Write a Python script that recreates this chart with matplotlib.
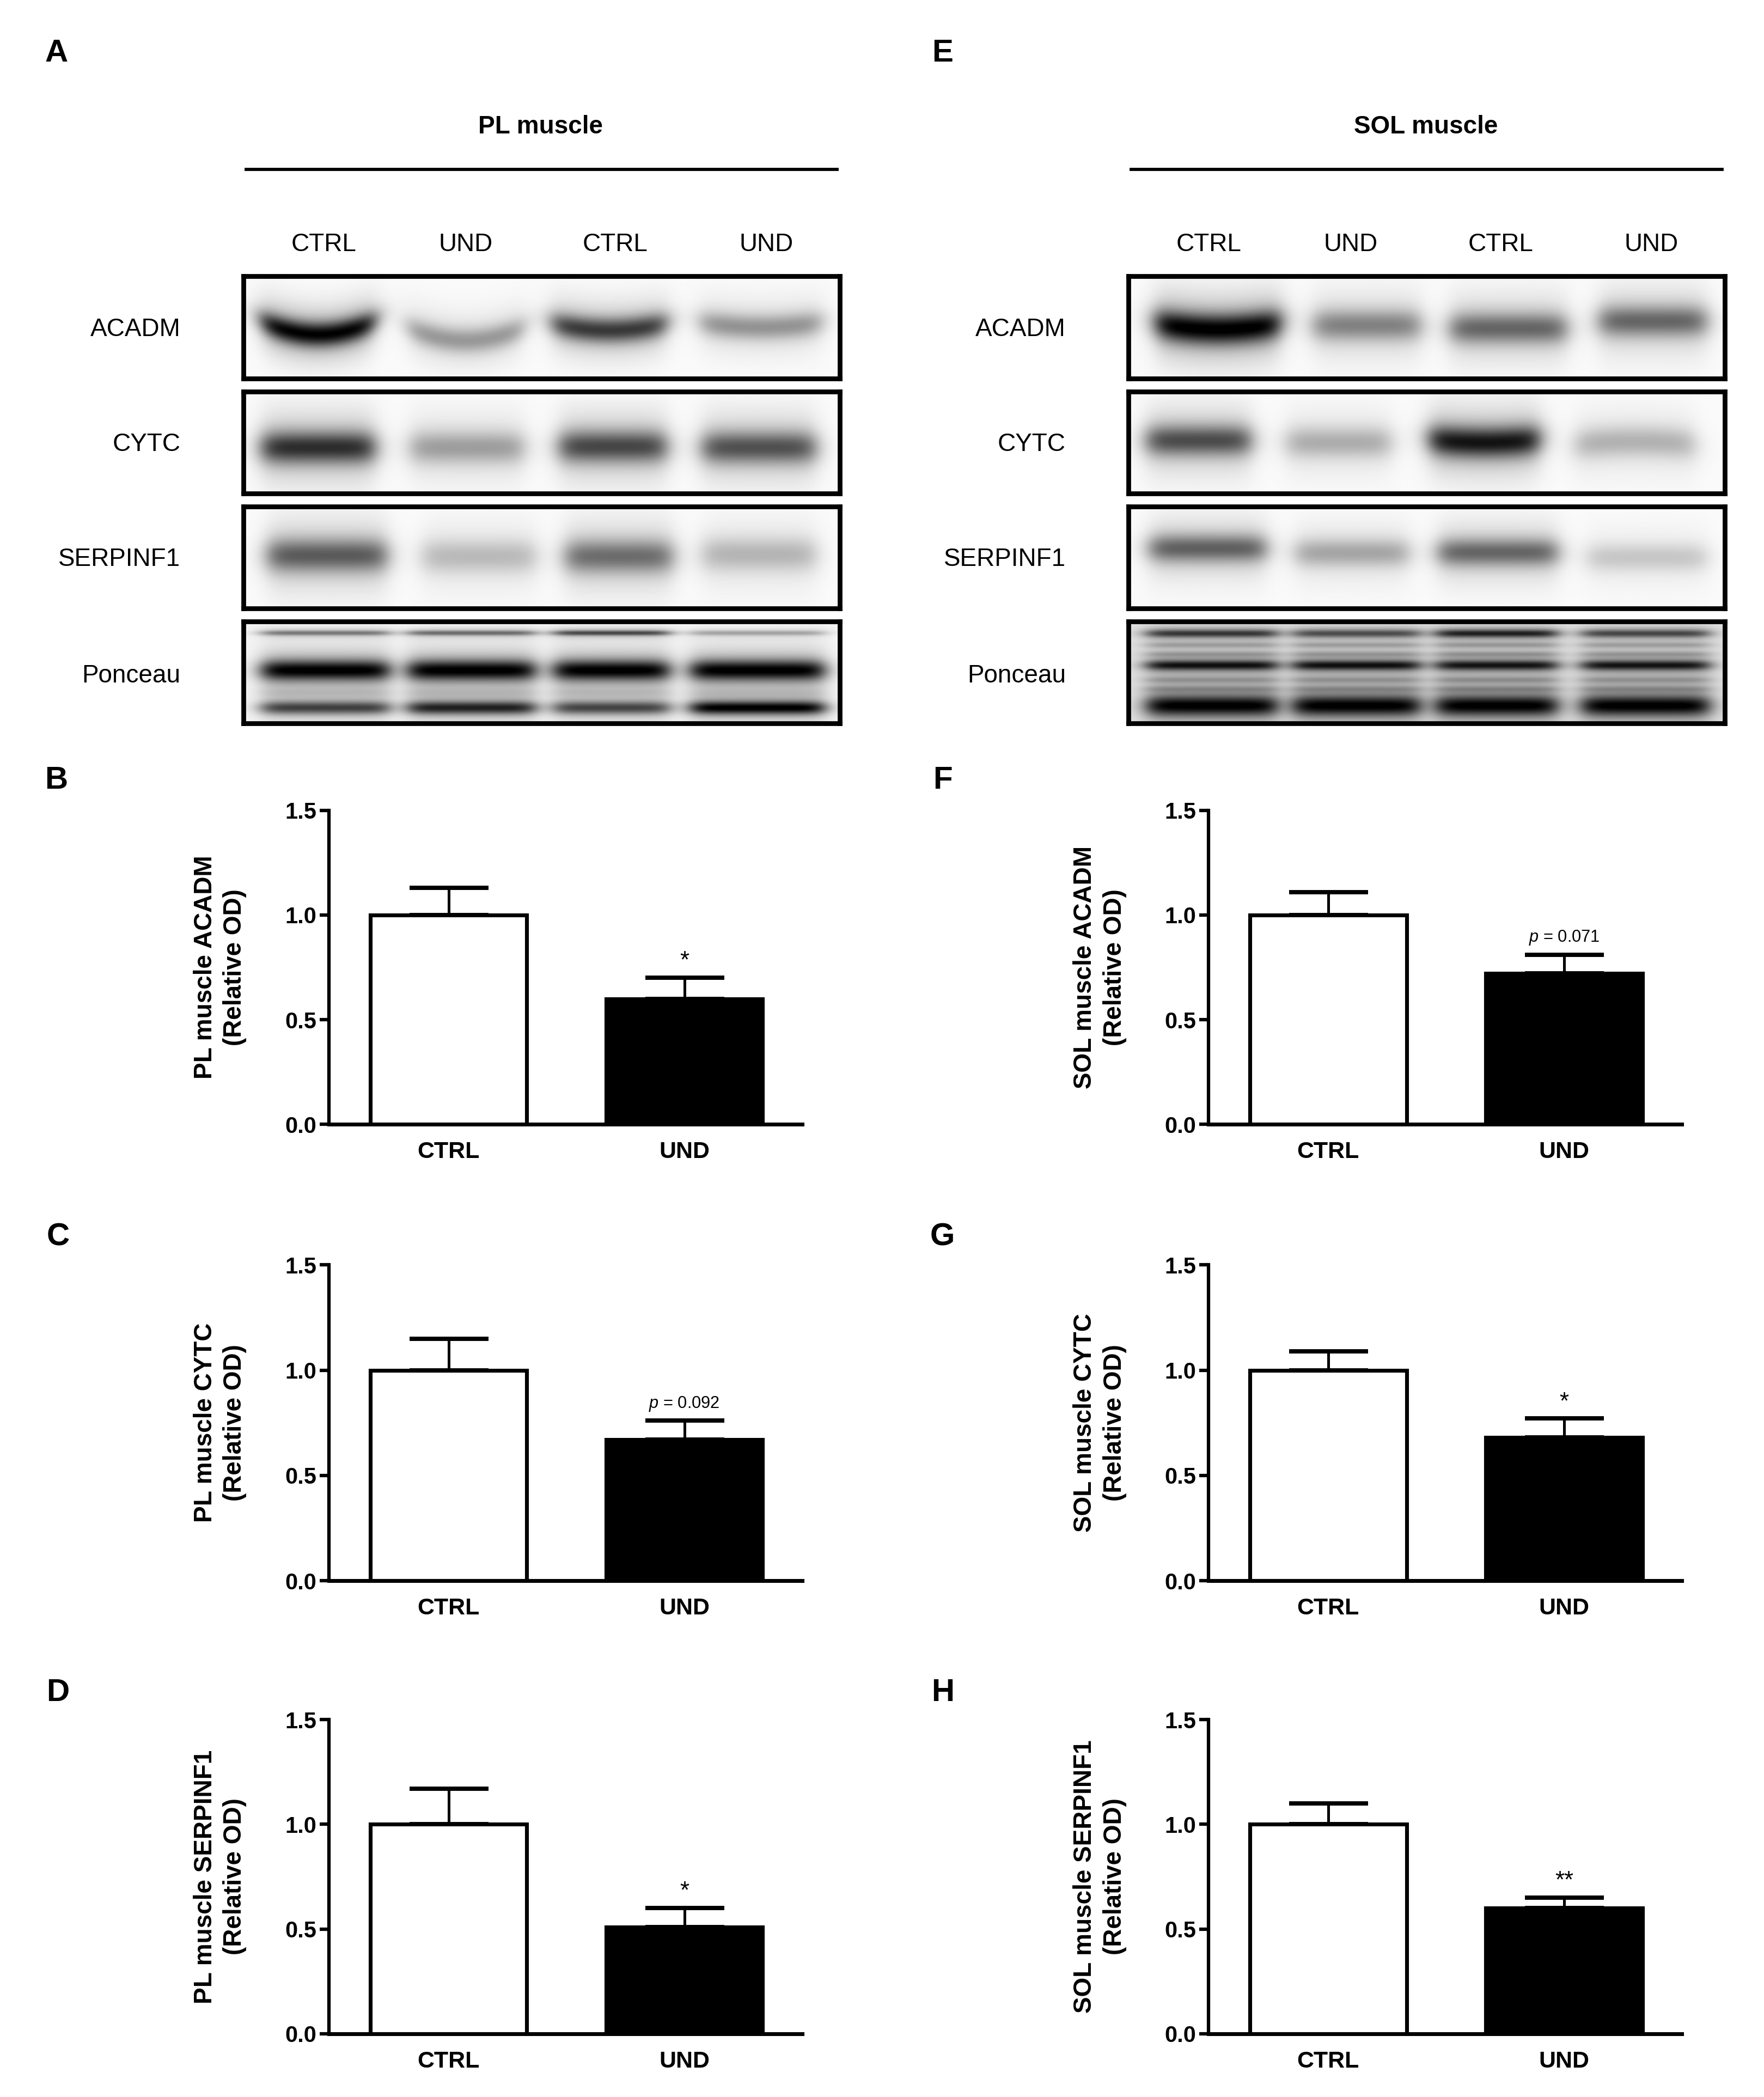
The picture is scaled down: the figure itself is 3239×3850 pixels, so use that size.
import numpy as np
import matplotlib
matplotlib.use("Agg")
import matplotlib.pyplot as plt

plt.rcParams['font.family'] = ['Liberation Sans', 'DejaVu Sans']
plt.rcParams['mathtext.fontset'] = 'custom'
plt.rcParams['mathtext.it'] = 'Liberation Sans:italic'
plt.rcParams['mathtext.rm'] = 'Liberation Sans'

W, H = 3239, 3850
DPI = 300
S = 1.0045  # layout below was measured slightly small

# bar values
groups = ['CTRL', 'UND']
pl_acadm = [1.00, 0.60]
pl_acadm_err = [0.13, 0.10]
pl_cytc = [1.00, 0.67]
pl_cytc_err = [0.15, 0.09]
pl_serpinf1 = [1.00, 0.51]
pl_serpinf1_err = [0.17, 0.09]
sol_acadm = [1.00, 0.72]
sol_acadm_err = [0.11, 0.09]
sol_cytc = [1.00, 0.68]
sol_cytc_err = [0.09, 0.09]
sol_serpinf1 = [1.00, 0.60]
sol_serpinf1_err = [0.10, 0.05]
y_ticks = [0.0, 0.5, 1.0, 1.5]

lane_labels = ['CTRL', 'UND', 'CTRL', 'UND']
blot_names = ['ACADM', 'CYTC', 'SERPINF1', 'Ponceau']

# band darkness for each lane of the blots
pl_acadm_dark = [0.97, 0.38, 0.75, 0.40]
pl_cytc_dark = [0.80, 0.36, 0.70, 0.66]
pl_serp_dark = [0.62, 0.25, 0.55, 0.27]
pl_ponc_top = [0.50, 0.55, 0.70, 0.32]
pl_ponc_mid = [1.00, 1.00, 1.00, 1.00]
pl_ponc_low = [0.72, 0.85, 0.70, 1.00]
sol_acadm_dark = [1.00, 0.47, 0.58, 0.58]
sol_cytc_dark = [0.68, 0.30, 0.90, 0.28]
sol_serp_dark = [0.60, 0.33, 0.58, 0.20]
sol_ponc_top = [0.75, 0.65, 0.85, 0.68]
sol_ponc_mid = [0.92, 0.92, 0.90, 0.90]
sol_ponc_low = [1.00, 1.00, 1.00, 1.00]
sol_ponc_faint = [0.26, 0.26, 0.28, 0.26]


def px_axes(x0, y0, x1, y1):
    x0, y0, x1, y1 = x0 * S, y0 * S, x1 * S, y1 * S
    return fig.add_axes([x0 / W, 1 - y1 / H, (x1 - x0) / W, (y1 - y0) / H])


def txt(x, y, s, **kw):
    fig.text(x * S / W, 1 - y * S / H, s, ha=kw.pop('ha', 'center'), va=kw.pop('va', 'center'), **kw)


def hline(x0, x1, y):
    fig.add_artist(plt.Line2D([x0 * S / W, x1 * S / W], [1 - y * S / H] * 2, color='black', lw=1.4))


def band(xx, yy, x0, x1, yc, sy, dark, curve=0.0):
    # flat topped in x, soft in y, with a halo like a real film exposure
    u = (xx - (x0 + x1) / 2) / ((x1 - x0) / 2)
    xprof = 0.5 * (np.tanh((xx - x0) / 0.02) - np.tanh((xx - x1) / 0.02))
    yy2 = yy - yc + curve * u ** 2
    core = np.exp(-yy2 ** 2 / (2 * sy ** 2))
    halo = np.exp(-yy2 ** 2 / (2 * (sy * 2.3) ** 2))
    return np.clip(dark * xprof * (0.75 * core + 0.28 * halo), 0, 1)


def draw_blot(box, lanes, rows, bg):
    ax = px_axes(*box)
    xx, yy = np.meshgrid(np.linspace(0, 1, 700), np.linspace(0, 1, 130))
    clear = np.ones_like(xx)
    for darks, ys, sy, curves in rows:
        for i in range(4):
            clear = clear * (1 - band(xx, yy, lanes[i][0], lanes[i][1], ys[i], sy, darks[i], curves[i]))
    ax.imshow(bg * clear, cmap='gray', vmin=0, vmax=1, extent=[0, 1, 1, 0], aspect='auto',
              interpolation='bilinear')
    ax.set_xticks([])
    ax.set_yticks([])
    for s in ax.spines.values():
        s.set_linewidth(2.1)


def draw_bars(left, top, bottom, title, vals, errs, note=None):
    ax = px_axes(left, top, left + 865, bottom)
    x = np.arange(len(groups))
    ax.bar(x, vals, width=0.664, color=['white', 'black'], edgecolor='black', linewidth=1.7)
    ax.errorbar(x, vals, yerr=[[0, 0], errs], fmt='none', ecolor='black', elinewidth=1.2,
                capsize=17.4, capthick=1.9)
    ax.set_xlim(-0.508, 1.499)
    ax.set_ylim(0, 1.5)
    ax.set_yticks(y_ticks)
    ax.set_yticklabels(['%.1f' % t for t in y_ticks], fontweight='bold', fontsize=10)
    ax.set_xticks(x)
    ax.set_xticklabels(groups, fontweight='bold', fontsize=10.3)
    ax.tick_params(axis='x', length=0, pad=7.5)
    ax.tick_params(axis='y', length=4, width=1.5, pad=1.5)
    ax.spines['top'].set_visible(False)
    ax.spines['right'].set_visible(False)
    ax.spines['left'].set_linewidth(1.5)
    ax.spines['bottom'].set_linewidth(1.7)
    ax.set_ylabel(title + '\n(Relative OD)', fontweight='bold', fontsize=11, linespacing=1.3)
    ax.yaxis.set_label_coords(-0.173, 0.5)
    if note:
        top_y = vals[1] + errs[1]
        if note.startswith('*'):
            ax.annotate(note, (1, top_y), xytext=(0, 2.3), textcoords='offset points',
                        ha='center', va='bottom', fontsize=10.5)
        else:
            ax.annotate(note, (1, top_y), xytext=(0, 3.5), textcoords='offset points',
                        ha='center', va='bottom', fontsize=7.4)


fig = plt.figure(figsize=(W / DPI, H / DPI), dpi=DPI, facecolor='white')

# panel letters
for s, x, y in [('A', 103, 98), ('E', 1723, 98), ('B', 103, 1427), ('F', 1723, 1427),
                ('C', 106, 2261), ('G', 1723, 2261), ('D', 106, 3094), ('H', 1723, 3094)]:
    txt(x, y, s, fontsize=14, fontweight='bold')

# headers
txt(988, 232, 'PL muscle', fontsize=11, fontweight='bold')
txt(2606, 232, 'SOL muscle', fontsize=11, fontweight='bold')
hline(450, 1530, 310)
hline(2068, 3148, 310)

for s, x in zip(lane_labels, [592, 851, 1125, 1401]):
    txt(x, 447, s, fontsize=11)
for s, x in zip(lane_labels, [2210, 2469, 2743, 3019]):
    txt(x, 447, s, fontsize=11)
for s, y in zip(blot_names, [602, 812, 1022, 1235]):
    txt(330, y, s, fontsize=11, ha='right')
    txt(1948, y, s, fontsize=11, ha='right')

# PL blots
draw_blot((445, 505, 1535, 692), [(.03, .22), (.276, .47), (.518, .71), (.767, .97)],
          [(pl_acadm_dark, [.57, .63, .53, .50], .085, [.13, .13, .07, .05])], 0.98)
draw_blot((445, 716, 1535, 902), [(.03, .22), (.28, .47), (.53, .71), (.77, .96)],
          [(pl_cytc_dark, [.55, .55, .54, .55], .11, [0, 0, 0, 0])], 0.98)
draw_blot((445, 926, 1535, 1112), [(.04, .24), (.30, .49), (.54, .72), (.77, .96)],
          [(pl_serp_dark, [.48, .49, .49, .47], .115, [0, 0, 0, 0])], 0.98)
pl_lanes = [(.03, .245), (.275, .49), (.52, .715), (.75, .975)]
draw_blot((445, 1136, 1535, 1322), pl_lanes,
          [(pl_ponc_top, [.11, .11, .11, .11], .018, [0, 0, 0, 0]),
           (pl_ponc_mid, [.48, .48, .48, .48], .07, [0, 0, 0, 0]),
           ([.10, .10, .10, .08], [.70, .70, .70, .70], .03, [0, 0, 0, 0]),
           (pl_ponc_low, [.85, .85, .85, .85], .045, [0, 0, 0, 0])], 0.96)

# SOL blots
draw_blot((2063, 505, 3153, 692), [(.045, .255), (.31, .49), (.54, .735), (.79, .97)],
          [(sol_acadm_dark, [.52, .48, .51, .44], .105, [.06, 0, 0, 0])], 0.98)
draw_blot((2063, 716, 3153, 902), [(.03, .205), (.265, .44), (.505, .69), (.75, .95)],
          [(sol_cytc_dark, [.48, .50, .50, .49], .105, [0, 0, .03, -.03])], 0.98)
draw_blot((2063, 926, 3153, 1112), [(.035, .23), (.28, .47), (.52, .72), (.77, .97)],
          [(sol_serp_dark, [.41, .455, .45, .50], .095, [0, 0, 0, 0])], 0.98)
sol_lanes = [(.03, .25), (.275, .49), (.515, .72), (.76, .975)]
draw_blot((2063, 1136, 3153, 1322), sol_lanes,
          [(sol_ponc_top, [.115, .115, .115, .115], .028, [0, 0, 0, 0]),
           (sol_ponc_faint, [.23, .23, .23, .23], .02, [0, 0, 0, 0]),
           (sol_ponc_faint, [.32, .32, .32, .32], .02, [0, 0, 0, 0]),
           (sol_ponc_mid, [.43, .43, .43, .43], .035, [0, 0, 0, 0]),
           (sol_ponc_faint, [.575, .575, .575, .575], .022, [0, 0, 0, 0]),
           (sol_ponc_faint, [.665, .665, .665, .665], .022, [0, 0, 0, 0]),
           (sol_ponc_low, [.83, .83, .83, .83], .07, [0, 0, 0, 0])], 0.88)

# bar charts
draw_bars(601, 1481, 2055, 'PL muscle ACADM', pl_acadm, pl_acadm_err, '*')
draw_bars(601, 2312, 2889, 'PL muscle CYTC', pl_cytc, pl_cytc_err, r'$\mathit{p}$ = 0.092')
draw_bars(601, 3143, 3717, 'PL muscle SERPINF1', pl_serpinf1, pl_serpinf1_err, '*')
draw_bars(2209, 1481, 2055, 'SOL muscle ACADM', sol_acadm, sol_acadm_err, r'$\mathit{p}$ = 0.071')
draw_bars(2209, 2312, 2889, 'SOL muscle CYTC', sol_cytc, sol_cytc_err, '*')
draw_bars(2209, 3143, 3717, 'SOL muscle SERPINF1', sol_serpinf1, sol_serpinf1_err, '**')

fig.savefig('out.png', dpi=DPI)
